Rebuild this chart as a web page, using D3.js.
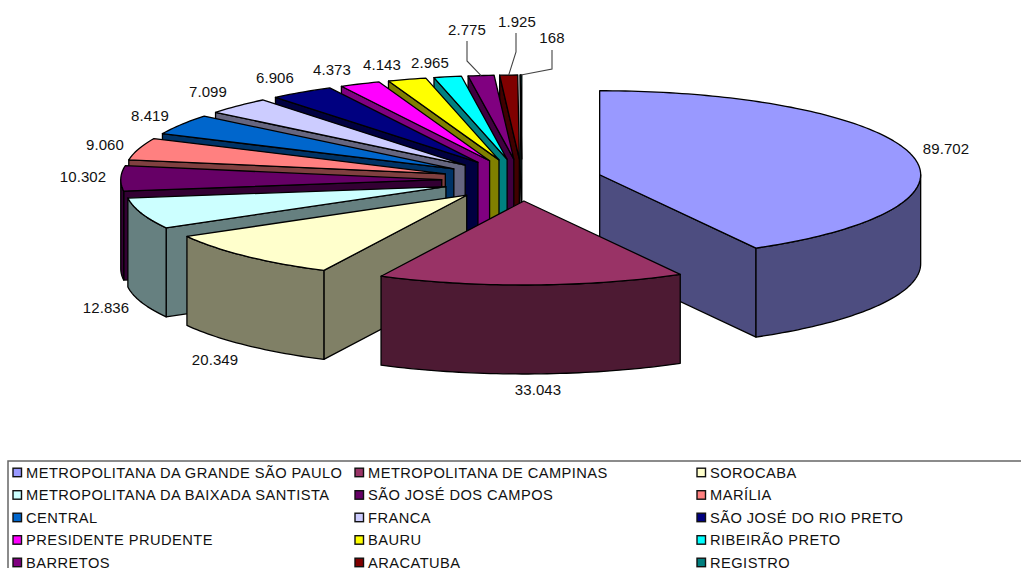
<!DOCTYPE html>
<html><head><meta charset="utf-8">
<script src="https://cdn.jsdelivr.net/npm/d3@7/dist/d3.min.js"></script>
<style>html,body{margin:0;padding:0;background:#fff;overflow:hidden}text{font-family:"Liberation Sans",Arial,sans-serif;fill:#111}</style>
</head><body><svg id="c" width="1021" height="568"></svg>
<script>
const regions = ["METROPOLITANA DA GRANDE SÃO PAULO","METROPOLITANA DE CAMPINAS","SOROCABA","METROPOLITANA DA BAIXADA SANTISTA","SÃO JOSÉ DOS CAMPOS","MARÍLIA","CENTRAL","FRANCA","SÃO JOSÉ DO RIO PRETO","PRESIDENTE PRUDENTE","BAURU","RIBEIRÃO PRETO","BARRETOS","ARACATUBA","REGISTRO"];
const values = [89702,33043,20349,12836,10302,9060,8419,7099,6906,4373,4143,2965,2775,1925,168];
const valueLabels = ["89.702","33.043","20.349","12.836","10.302","9.060","8.419","7.099","6.906","4.373","4.143","2.965","2.775","1.925","168"];
const colors = ["#9999FF","#993366","#FFFFCC","#CCFFFF","#660066","#FF8080","#0066CC","#CCCCFF","#000080","#FF00FF","#FFFF00","#00FFFF","#800080","#800000","#008080"];

// layout
const cx = 522, cy = 180, rx = 321, ry = 84, depth = 89, explode = 0.25;
const labelPos = [[946,148.5],[538,389],[215,359],[106,307],[83,176],[105,144],[150,115],[208,91],[275,77],[332,69],[382,64],[430,62],[467,29],[517,21],[552,37]];
const leaders = {12:[[467,41],[467,61]],13:[[516,33],[516,52]],14:[[552,50],[552,69]]};

const svg = d3.select("#c");
const X = d3.scaleLinear().domain([-1,1]).range([cx-rx,cx+rx]);
const Y = d3.scaleLinear().domain([-1,1]).range([cy-ry,cy+ry]);
const line = d3.line();
const pie = d3.pie().sort(null).startAngle(0).endAngle(2*Math.PI);
const arcs = pie(values).map((d,i)=>{
  const mid=(d.startAngle+d.endAngle)/2;
  return {i,a:d.startAngle,b:d.endAngle,mid,
    ox:explode*Math.sin(mid),oy:-explode*Math.cos(mid)};
});
const pt=(s,ang,r,dz)=>[X(s.ox+r*Math.sin(ang)),Y(s.oy-r*Math.cos(ang))+dz];
const arcPts=(s,a,b,dz)=>{
  const n=Math.max(2,Math.ceil((b-a)/0.02));
  return d3.range(n+1).map(k=>pt(s,a+(b-a)*k/n,1,dz));
};
const dark=c=>{const q=d3.rgb(c);return d3.rgb(q.r/2,q.g/2,q.b/2).formatHex();};
const strokeW=1.3;
const face=(pts,fill)=>svg.append("path").attr("d",line(pts)+"Z").attr("fill",fill)
  .attr("stroke","#000").attr("stroke-width",strokeW).attr("stroke-linejoin","round");

const order=arcs.slice().sort((p,q)=>d3.descending(Math.cos(p.mid),Math.cos(q.mid)));
order.forEach(s=>{
  const col=colors[s.i], w=dark(col);
  if(Math.sin(s.a)<-1e-6){
    face([pt(s,0,0,0),pt(s,s.a,1,0),pt(s,s.a,1,depth),pt(s,0,0,depth)],w);
  }
  if(Math.sin(s.b)>1e-6){
    face([pt(s,0,0,0),pt(s,s.b,1,0),pt(s,s.b,1,depth),pt(s,0,0,depth)],w);
  }
  const lo=Math.max(s.a,Math.PI/2), hi=Math.min(s.b,3*Math.PI/2);
  if(hi>lo){
    face(arcPts(s,lo,hi,0).concat(arcPts(s,lo,hi,depth).reverse()),w);
  }
  face([pt(s,0,0,0)].concat(arcPts(s,s.a,s.b,0)),col);
});

// leader lines
Object.keys(leaders).forEach(k=>{
  const s=arcs[+k];
  const pts=leaders[k].concat([pt(s,s.mid,1,0)]);
  svg.append("path").attr("d",line(pts)).attr("fill","none").attr("stroke","#444").attr("stroke-width",1.1);
});
// value labels
svg.selectAll("text.v").data(valueLabels).join("text").attr("class","v")
  .attr("x",(d,i)=>labelPos[i][0]).attr("y",(d,i)=>labelPos[i][1])
  .attr("text-anchor","middle").attr("dominant-baseline","central")
  .style("font-size","15px").style("letter-spacing","0.1px").text(d=>d);

// legend
const colX=[13,355,697], rowY0=472.7, rowH=22.5, sw=9.5;
svg.append("rect").attr("x",8).attr("y",461).attr("width",1100).attr("height",200)
  .attr("fill","none").attr("stroke","#666").attr("stroke-width",1.5);
const lg=svg.selectAll("g.l").data(regions).join("g").attr("class","l")
  .attr("transform",(d,i)=>`translate(${colX[i%3]},${rowY0+rowH*Math.floor(i/3)})`);
lg.append("rect").attr("x",0).attr("y",-4.5).attr("width",sw-1).attr("height",sw-1)
  .attr("fill",(d,i)=>colors[i]).attr("stroke","#111").attr("stroke-width",1.4);
lg.append("text").attr("x",13).attr("y",0).attr("dominant-baseline","central")
  .style("font-size","14.67px").style("letter-spacing","0.45px").text(d=>d);
</script></body></html>
